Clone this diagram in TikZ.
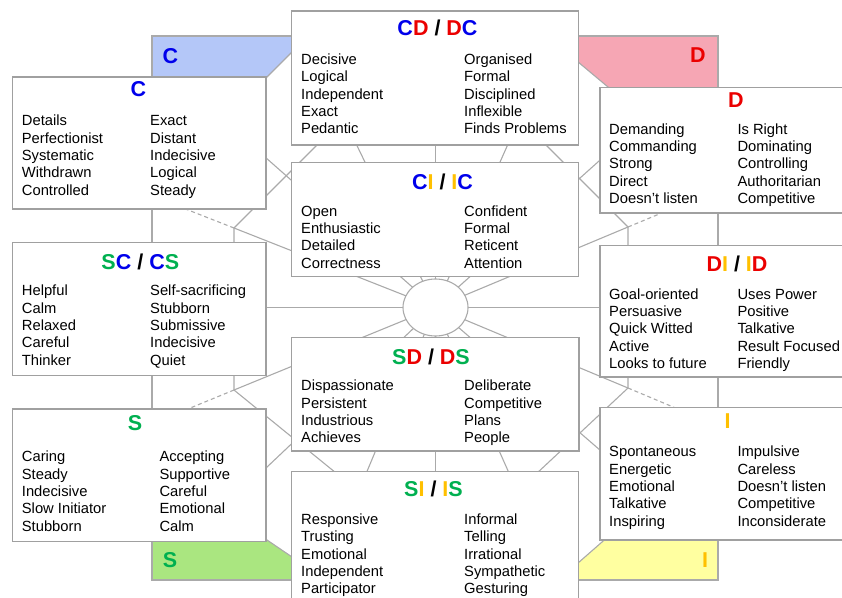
\documentclass[tikz,border=0pt]{standalone}
\usepackage{fontspec}
\setmainfont{Liberation Sans}
\usetikzlibrary{shapes.geometric}
\definecolor{cblue}{RGB}{0,0,235}
\definecolor{cred}{RGB}{235,0,0}
\definecolor{cgreen}{RGB}{0,176,80}
\definecolor{cyel}{RGB}{255,192,0}
\definecolor{fblue}{RGB}{180,199,248}
\definecolor{fred}{RGB}{246,166,180}
\definecolor{fgreen}{RGB}{170,230,128}
\definecolor{fyel}{RGB}{255,255,160}
\definecolor{lgray}{RGB}{170,170,170}
\definecolor{bgray}{RGB}{160,160,160}
\newcommand\tB[1]{\textcolor{cblue}{#1}}
\newcommand\tR[1]{\textcolor{cred}{#1}}
\newcommand\tG[1]{\textcolor{cgreen}{#1}}
\newcommand\tY[1]{\textcolor{cyel}{#1}}
\newcommand\discbox[5]{\node[boxsty,minimum width={#4-#2},minimum height={#5-#3}] (#1) at ({(#2+#4)/2},{(#3+#5)/2}) {};}
\newcommand\wordcol[4]{\node[words] (#1) at (#2,#3) {\begin{tabular}[t]{@{}l@{}}#4\end{tabular}};}
\begin{document}
\begin{tikzpicture}[x=1pt,y=-1pt,
  ln/.style={draw=lgray,line width=1.1pt},
  dashln/.style={ln,dash pattern=on 4pt off 3pt},
  boxsty/.style={draw=bgray,fill=white,line width=1.2pt,inner sep=0pt,outer sep=0pt},
  words/.style={inner sep=0pt,anchor=base west,font=\fontsize{14.75}{17.4}\selectfont},
  ttl/.style={inner sep=0pt,anchor=base,font=\fontsize{21.5}{24}\selectfont\bfseries},
]
\path[use as bounding box] (0,0) rectangle (842,597);
\clip (0,0) rectangle (842,597);

% coloured corners
\filldraw[fill=fblue,draw=lgray,line width=1.1pt] (152,36) -- (308,36) -- (152,192) -- cycle;
\filldraw[fill=fred,draw=lgray,line width=1.1pt] (547,36) -- (718,36) -- (718,179) -- cycle;
\filldraw[fill=fgreen,draw=lgray,line width=1.1pt] (152,462) -- (326,580) -- (152,580) -- cycle;
\filldraw[fill=fyel,draw=lgray,line width=1.1pt] (558.6,580) -- (718,580) -- (718,440.5) -- cycle;
\draw[ln] (152,36) rectangle (718,580);

% named points
\coordinate (O) at (435.5,307.5);
\coordinate (vUL) at (234,228);
\coordinate (vUR) at (628,227);
\coordinate (vLL) at (234,390);
\coordinate (vLR) at (628,388);
\coordinate (eUp) at (435.5,90);
\coordinate (eDown) at (435.5,530);
\coordinate (eUL1) at (330,90);
\coordinate (eUR1) at (532,90);
\coordinate (eLL1) at (342.5,530);
\coordinate (eLR1) at (534.3,530);
\coordinate (eUL2) at (239.5,134.5);
\coordinate (eUR2) at (624.7,138);
\coordinate (eLL2) at (241.7,491);
\coordinate (eLR2) at (632.9,478.6);
\coordinate (eL) at (200,307.5);
\coordinate (eR) at (700,307.5);
\coordinate (dUL) at (180,206.8);
\coordinate (dUR) at (670,209.5);
\coordinate (dLL) at (180,412.2);
\coordinate (dLR) at (685,412);
\coordinate (oUL) at (340,122);
\coordinate (oUR) at (530,129);
\coordinate (oLL) at (352,486);
\coordinate (oLR) at (520,489);

% radial lines
\foreach \e in {eUp,eDown,eUL1,eUR1,eLL1,eLR1,eUL2,eUR2,eLL2,eLR2,eL,eR,vUL,vUR,vLL,vLR}
  \draw[ln] (O) -- (\e);
\draw[dashln] (vUL) -- (dUL);
\draw[dashln] (vUR) -- (dUR);
\draw[dashln] (vLL) -- (dLL);
\draw[dashln] (vLR) -- (dLR);
% frame lines
\draw[ln] (oUL) -- (vUL) -- (vLL) -- (oLL);
\draw[ln] (oUR) -- (vUR) -- (vLR) -- (oLR);

\node[ellipse,draw=lgray,fill=white,line width=1.1pt,minimum width=65pt,minimum height=57pt,inner sep=0pt] (core) at (O) {};

% corner letters
\node[ttl,text=cblue] (kC) at (170.5,63) {C};
\node[ttl,text=cred] (kD) at (698,62.7) {D};
\node[ttl,text=cgreen] (kS) at (170,567.3) {S};
\node[ttl,text=cyel] (kI) at (705,567.3) {I};

% boxes
\discbox{bC}{12.5}{77}{266}{209}
\discbox{bSC}{12.5}{242.5}{266}{375.5}
\discbox{bS}{12.5}{409}{266}{541.5}
\discbox{bCD}{291.5}{11}{578.5}{145}
\discbox{bCI}{291.5}{162.5}{578.5}{276.5}
\discbox{bSD}{291.5}{337.7}{579}{451}
\discbox{bSI}{291.5}{471.5}{578.5}{610}
\discbox{bD}{600}{87.3}{852}{213}
\discbox{bDI}{600}{245.5}{852}{377}
\discbox{bI}{600}{407.7}{852}{540}

% CD / DC
\node[ttl] (tCD) at (437.5,35) {\tB{C}\tR{D} / \tR{D}\tB{C}};
\wordcol{cdL}{301}{64.3}{Decisive\\Logical\\Independent\\Exact\\Pedantic}
\wordcol{cdR}{464}{64.3}{Organised\\Formal\\Disciplined\\Inflexible\\Finds Problems}
% CI / IC
\node[ttl] (tCI) at (442.5,189.3) {\tB{C}\tY{I} / \tY{I}\tB{C}};
\wordcol{ciL}{301}{216}{Open\\Enthusiastic\\Detailed\\Correctness}
\wordcol{ciR}{464}{216}{Confident\\Formal\\Reticent\\Attention}
% SD / DS
\node[ttl] (tSD) at (431,364.3) {\tG{S}\tR{D} / \tR{D}\tG{S}};
\wordcol{sdL}{301}{390.7}{Dispassionate\\Persistent\\Industrious\\Achieves}
\wordcol{sdR}{464}{390.7}{Deliberate\\Competitive\\Plans\\People}
% SI / IS
\node[ttl] (tSI) at (433.5,496.7) {\tG{S}\tY{I} / \tY{I}\tG{S}};
\wordcol{siL}{301}{524.3}{Responsive\\Trusting\\Emotional\\Independent\\Participator}
\wordcol{siR}{464}{524.3}{Informal\\Telling\\Irrational\\Sympathetic\\Gesturing}
% C
\node[ttl] (tC) at (138.5,96.7) {\tB{C}};
\wordcol{cL}{21.7}{125.7}{Details\\Perfectionist\\Systematic\\Withdrawn\\Controlled}
\wordcol{cR}{150}{125.7}{Exact\\Distant\\Indecisive\\Logical\\Steady}
% SC / CS
\node[ttl] (tSC) at (140.3,269.3) {\tG{S}\tB{C} / \tB{C}\tG{S}};
\wordcol{scL}{21.7}{295.7}{Helpful\\Calm\\Relaxed\\Careful\\Thinker}
\wordcol{scR}{150}{295.7}{Self-sacrificing\\Stubborn\\Submissive\\Indecisive\\Quiet}
% S
\node[ttl] (tS) at (135,430) {\tG{S}};
\wordcol{sL}{21.7}{461.7}{Caring\\Steady\\Indecisive\\Slow Initiator\\Stubborn}
\wordcol{sR}{159.3}{461.7}{Accepting\\Supportive\\Careful\\Emotional\\Calm}
% D
\node[ttl] (tD) at (736,107.3) {\tR{D}};
\wordcol{dL}{609}{134}{Demanding\\Commanding\\Strong\\Direct\\Doesn’t listen}
\wordcol{dR}{737.3}{134}{Is Right\\Dominating\\Controlling\\Authoritarian\\Competitive}
% DI / ID
\node[ttl] (tDI) at (737,271.7) {\tR{D}\tY{I} / \tY{I}\tR{D}};
\wordcol{diL}{609}{299}{Goal-oriented\\Persuasive\\Quick Witted\\Active\\Looks to future}
\wordcol{diR}{737.3}{299}{Uses Power\\Positive\\Talkative\\Result Focused\\Friendly}
% I
\node[ttl] (tI) at (727.7,428.3) {\tY{I}};
\wordcol{iL}{609}{456.7}{Spontaneous\\Energetic\\Emotional\\Talkative\\Inspiring}
\wordcol{iR}{737.3}{456.7}{Impulsive\\Careless\\Doesn’t listen\\Competitive\\Inconsiderate}
\end{tikzpicture}
\end{document}
